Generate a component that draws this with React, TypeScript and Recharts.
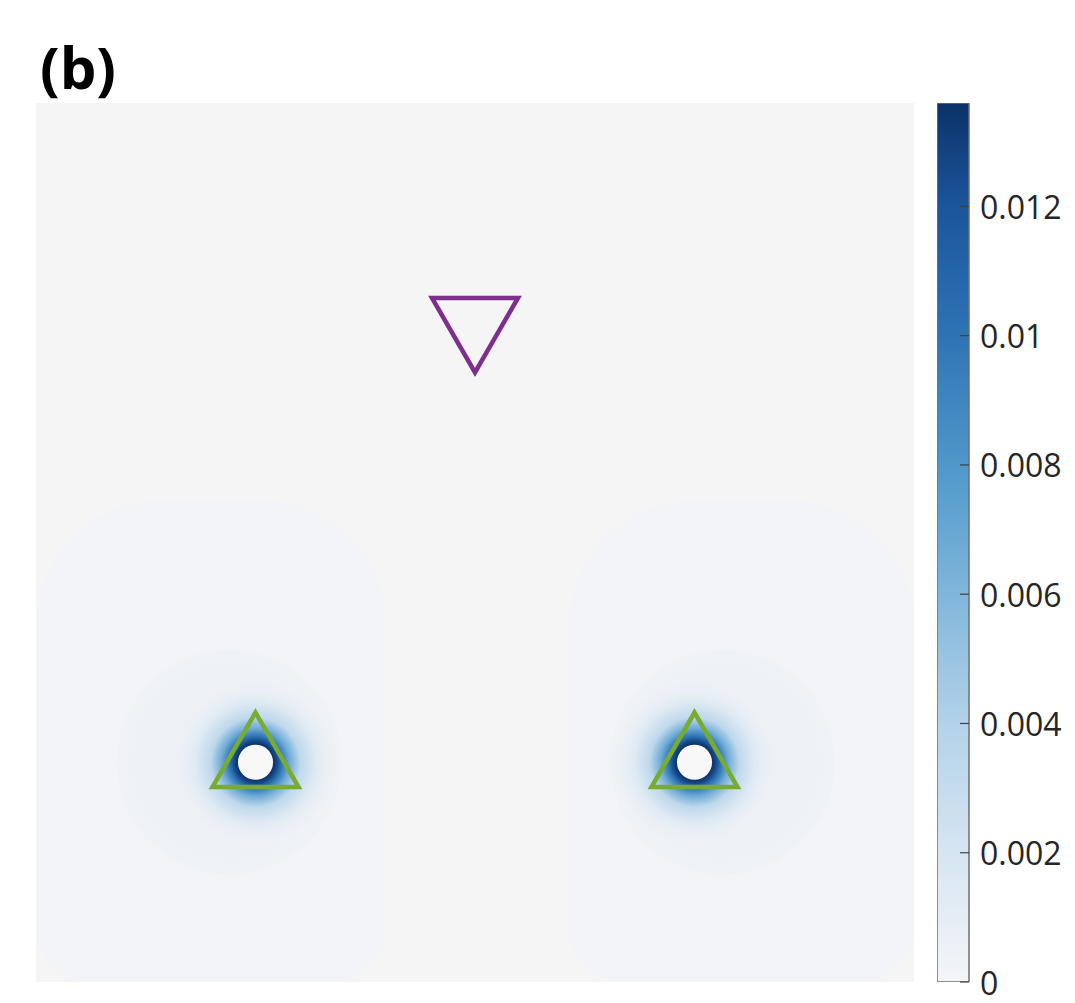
import {
  Bar,
  BarChart,
  CartesianGrid,
  ReferenceArea,
  Scatter,
  ScatterChart,
  XAxis,
  YAxis,
} from "recharts";

// field layout (data units, 0..10 both ways)
const receivers = [
  { x: 2.5, y: 2.5 },
  { x: 7.5, y: 2.5 },
];
const sources = [{ x: 5.0, y: 7.5 }];
const halos = [
  { x: 2.2, y: 2.5, r: 1.28 },
  { x: 7.82, y: 2.5, r: 1.28 },
];
const zones = [
  { x1: 0, x2: 3.99, y1: 0, y2: 5.48 },
  { x1: 6.07, x2: 10, y1: 0, y2: 5.48 },
];

// value around each receiver, by distance from its centre
const glowDist = [0.2, 0.24, 0.3, 0.39, 0.51, 0.68, 0.95];
const glowValue = [0.0136, 0.0127, 0.0099, 0.0066, 0.0034, 0.0015, 0.0005];
const haloValue = [0.0007, 0.0005, 0.00032];
const zoneValue = 0.0001;

// colour bar
const cmapValues = [0, 0.002, 0.004, 0.006, 0.008, 0.01, 0.012, 0.0136];
const cmapColors = ["#f4f5f7", "#d6e5f2", "#b3d2e9", "#80b6db", "#4e98ca", "#2e74b5", "#1b559c", "#0b3268"];
const cbarTicks = [0, 0.002, 0.004, 0.006, 0.008, 0.01, 0.012];
const cbarMax = 0.0136;

const PLOT = { left: 36, top: 103, width: 878, height: 879 };
const PX = PLOT.width / 10;
const TRI = 86;
const GREEN = "#77ac30";
const PURPLE = "#7e2f8e";
const FONT = "'Open Sans', sans-serif";

function hex(c: string) {
  return [1, 3, 5].map((i) => parseInt(c.slice(i, i + 2), 16));
}

function cmap(v: number) {
  let i = 0;
  while (i < cmapValues.length - 2 && v > cmapValues[i + 1]) i++;
  const t = Math.max(0, Math.min(1, (v - cmapValues[i]) / (cmapValues[i + 1] - cmapValues[i])));
  const a = hex(cmapColors[i]);
  const b = hex(cmapColors[i + 1]);
  const rgb = a.map((ch, k) => Math.round(ch + (b[k] - ch) * t));
  return `rgb(${rgb.join(",")})`;
}

function roundedPath(x: number, y: number, w: number, h: number, rt: number, rb: number) {
  return `M${x + rt},${y} H${x + w - rt} A${rt},${rt} 0 0 1 ${x + w},${y + rt} V${y + h - rb} A${rb},${rb} 0 0 1 ${x + w - rb},${y + h} H${x + rb} A${rb},${rb} 0 0 1 ${x},${y + h - rb} V${y + rt} A${rt},${rt} 0 0 1 ${x + rt},${y} Z`;
}

const ZoneShape = (p: any) => (
  <path d={roundedPath(p.x, p.y, p.width, p.height, 125, 55)} fill={cmap(zoneValue)} />
);

const HaloShape = (p: any) => <circle cx={p.cx} cy={p.cy} r={p.payload.r * PX} fill="url(#haloFill)" />;

const GlowShape = (p: any) => (
  <g>
    <circle cx={p.cx} cy={p.cy} r={glowDist[glowDist.length - 1] * PX} fill="url(#glowFill)" />
    <circle cx={p.cx} cy={p.cy} r={glowDist[0] * PX} fill="#f8f8f8" />
  </g>
);

const UpTriangle = (p: any) => {
  const h = TRI / Math.sqrt(3);
  const d = `M${p.cx},${p.cy - h} L${p.cx + TRI / 2},${p.cy + h / 2} L${p.cx - TRI / 2},${p.cy + h / 2} Z`;
  return <path d={d} fill="none" stroke={GREEN} strokeWidth={4.5} />;
};

const DownTriangle = (p: any) => {
  const h = TRI / Math.sqrt(3);
  const d = `M${p.cx - TRI / 2},${p.cy - h / 2} L${p.cx + TRI / 2},${p.cy - h / 2} L${p.cx},${p.cy + h} Z`;
  return <path d={d} fill="none" stroke={PURPLE} strokeWidth={4.5} />;
};

const CbarTick = (p: any) => (
  <g>
    <line x1={p.x - 9} x2={p.x} y1={p.y} y2={p.y} stroke="#404040" strokeWidth={1.2} />
    <text x={p.x + 11} y={p.y} dominantBaseline="central" fontFamily={FONT} fontSize={32} fill="#262626">
      {String(p.payload.value)}
    </text>
  </g>
);

export default function App() {
  const outer = glowDist[glowDist.length - 1];
  return (
    <div style={{ position: "absolute", left: 0, top: 0, width: 1075, height: 1003, background: "#fff" }}>
      <div
        style={{
          position: "absolute",
          left: 40,
          top: 38,
          fontFamily: FONT,
          fontWeight: 700,
          fontSize: 58,
          lineHeight: "58px",
          color: "#000",
        }}
      >
        (b)
      </div>

      <div style={{ position: "absolute", left: 0, top: 0 }}>
        <ScatterChart
          width={1075}
          height={1003}
          margin={{ top: PLOT.top, left: PLOT.left, right: 1075 - PLOT.left - PLOT.width, bottom: 1003 - PLOT.top - PLOT.height }}
        >
          <defs>
            <radialGradient id="glowFill">
              {glowDist.map((d, i) => (
                <stop
                  key={i}
                  offset={d / outer}
                  stopColor={cmap(glowValue[i])}
                  stopOpacity={i === glowDist.length - 1 ? 0 : 1}
                />
              ))}
            </radialGradient>
            <radialGradient id="haloFill">
              {haloValue.map((v, i) => (
                <stop key={i} offset={i / (haloValue.length - 1)} stopColor={cmap(v)} />
              ))}
            </radialGradient>
          </defs>
          <CartesianGrid fill="#f5f5f5" horizontal={false} vertical={false} />
          <XAxis type="number" dataKey="x" domain={[0, 10]} hide />
          <YAxis type="number" dataKey="y" domain={[0, 10]} hide />
          {zones.map((z, i) => (
            <ReferenceArea key={i} x1={z.x1} x2={z.x2} y1={z.y1} y2={z.y2} shape={ZoneShape} />
          ))}
          <Scatter data={halos} shape={HaloShape} isAnimationActive={false} />
          <Scatter data={receivers} shape={GlowShape} isAnimationActive={false} />
          <Scatter data={receivers} shape={UpTriangle} isAnimationActive={false} />
          <Scatter data={sources} shape={DownTriangle} isAnimationActive={false} />
        </ScatterChart>
      </div>

      <div style={{ position: "absolute", left: 937, top: 0 }}>
        <BarChart
          width={138}
          height={1003}
          data={[{ k: "c", v: cbarMax }]}
          margin={{ top: PLOT.top, right: 0, bottom: 1003 - PLOT.top - PLOT.height, left: 0 }}
          barCategoryGap={0}
        >
          <defs>
            <linearGradient id="cbarFill" x1="0" y1="1" x2="0" y2="0">
              {cmapValues.map((v, i) => (
                <stop key={i} offset={v / cbarMax} stopColor={cmapColors[i]} />
              ))}
            </linearGradient>
          </defs>
          <XAxis dataKey="k" hide />
          <YAxis
            orientation="right"
            type="number"
            width={106}
            domain={[0, cbarMax]}
            ticks={cbarTicks}
            allowDataOverflow
            axisLine={false}
            tickLine={false}
            tickSize={0}
            tickMargin={0}
            tick={CbarTick}
            interval={0}
          />
          <Bar dataKey="v" fill="url(#cbarFill)" stroke="#6f6f6f" strokeWidth={1.5} isAnimationActive={false} />
        </BarChart>
      </div>
    </div>
  );
}
